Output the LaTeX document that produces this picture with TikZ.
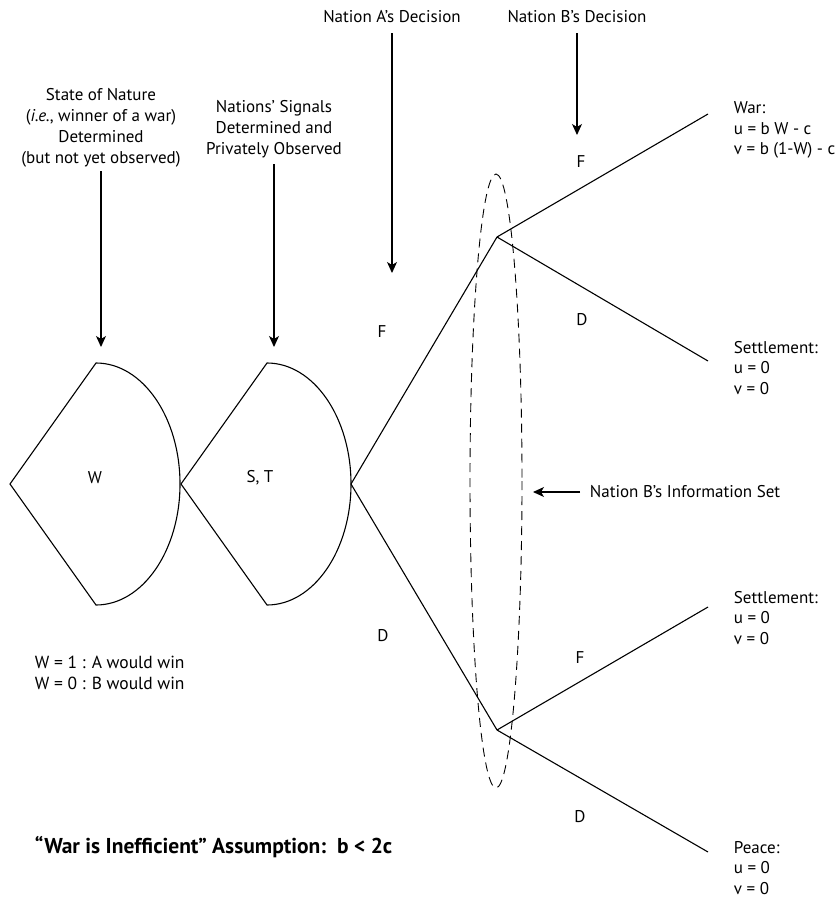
\documentclass[tikz,border=0pt]{standalone}
\usepackage{fontspec}
\setmainfont{PT Sans}
\usetikzlibrary{arrows.meta}

\begin{document}
\begin{tikzpicture}[
>={Stealth[length=11pt,width=10pt,inset=3pt]},
x=1pt, y=-1pt,
line width=1.1pt,
every node/.style={font=\fontsize{17}{20.8}\selectfont},
heading/.style={align=center},
payoff/.style={anchor=west, align=left},
infoset/.style={line width=0.9pt, dash pattern=on 9pt off 6pt},
]
\useasboundingbox (0,0) rectangle (839,899);

% chance moves
\draw (10,484) -- (96,363) arc[start angle=-90, end angle=90, x radius=84, y radius=121] -- cycle;
\draw (181,484) -- (267,363) arc[start angle=-90, end angle=90, x radius=84, y radius=121] -- cycle;
\node (w) at (95,478) {W};
\node (st) at (260,478) {S, T};

% tree nodes
\coordinate (a) at (351,484);
\coordinate (b1) at (497,237);
\coordinate (b2) at (497,730);
\coordinate (t1) at (708,114);
\coordinate (t2) at (708,361);
\coordinate (t3) at (708,607);
\coordinate (t4) at (708,852);
% branches
\draw (a) -- (b1);
\draw (a) -- (b2);
\draw (b1) -- (t1);
\draw (b1) -- (t2);
\draw (b2) -- (t3);
\draw (b2) -- (t4);
\node (fa) at (382,332) {F};
\node (da) at (383,636) {D};
\node (fb1) at (581,162) {F};
\node (db1) at (582,320) {D};
\node (fb2) at (580,658) {F};
\node (db2) at (580,817) {D};

% information set
\draw[infoset] (496,481) ellipse[x radius=26, y radius=307];

% outcomes
\node[payoff] (war) at (730,130) {War:\\u = b W - c\\v = b (1-W) - c};
\node[payoff] (settle1) at (730,368) {Settlement:\\u = 0\\v = 0};
\node[payoff] (settle2) at (730,618) {Settlement:\\u = 0\\v = 0};
\node[payoff] (peace) at (730,868) {Peace:\\u = 0\\v = 0};

% stage captions
\node[heading] (nature) at (101,128) {State of Nature\\(\textit{i.e.}, winner of a war)\\Determined\\(but not yet observed)};
\node[heading] (signals) at (274,129) {Nations’ Signals\\Determined and\\Privately Observed};
\node[heading] (decA) at (392,17) {Nation A’s Decision};
\node[heading] (decB) at (577,17) {Nation B’s Decision};
\node[anchor=west] (info) at (586,492) {Nation B’s Information Set};
\coordinate (natTip) at (101,347);
\coordinate (sigTip) at (274,347);
\coordinate (aTip) at (392,273);
\coordinate (bTip) at (577,135);
\coordinate (infoTip) at (533,492);
% arrows
\draw[->] (nature) -- (natTip);
\draw[->,shorten <=3pt] (signals) -- (sigTip);
\draw[->,shorten <=6pt] (decA) -- (aTip);
\draw[->,shorten <=6pt] (decB) -- (bTip);
\draw[->,shorten <=6pt] (info) -- (infoTip);

% notes
\node[payoff, font=\fontsize{17.5}{20.8}\selectfont] (legend) at (31,673) {W = 1 : A would win\\W = 0 : B would win};
\node[anchor=west, font=\fontsize{21.5}{22}\selectfont\bfseries] (assume) at (31,847) {“War is Inefficient” Assumption:\, b < 2c};
\end{tikzpicture}
\end{document}
